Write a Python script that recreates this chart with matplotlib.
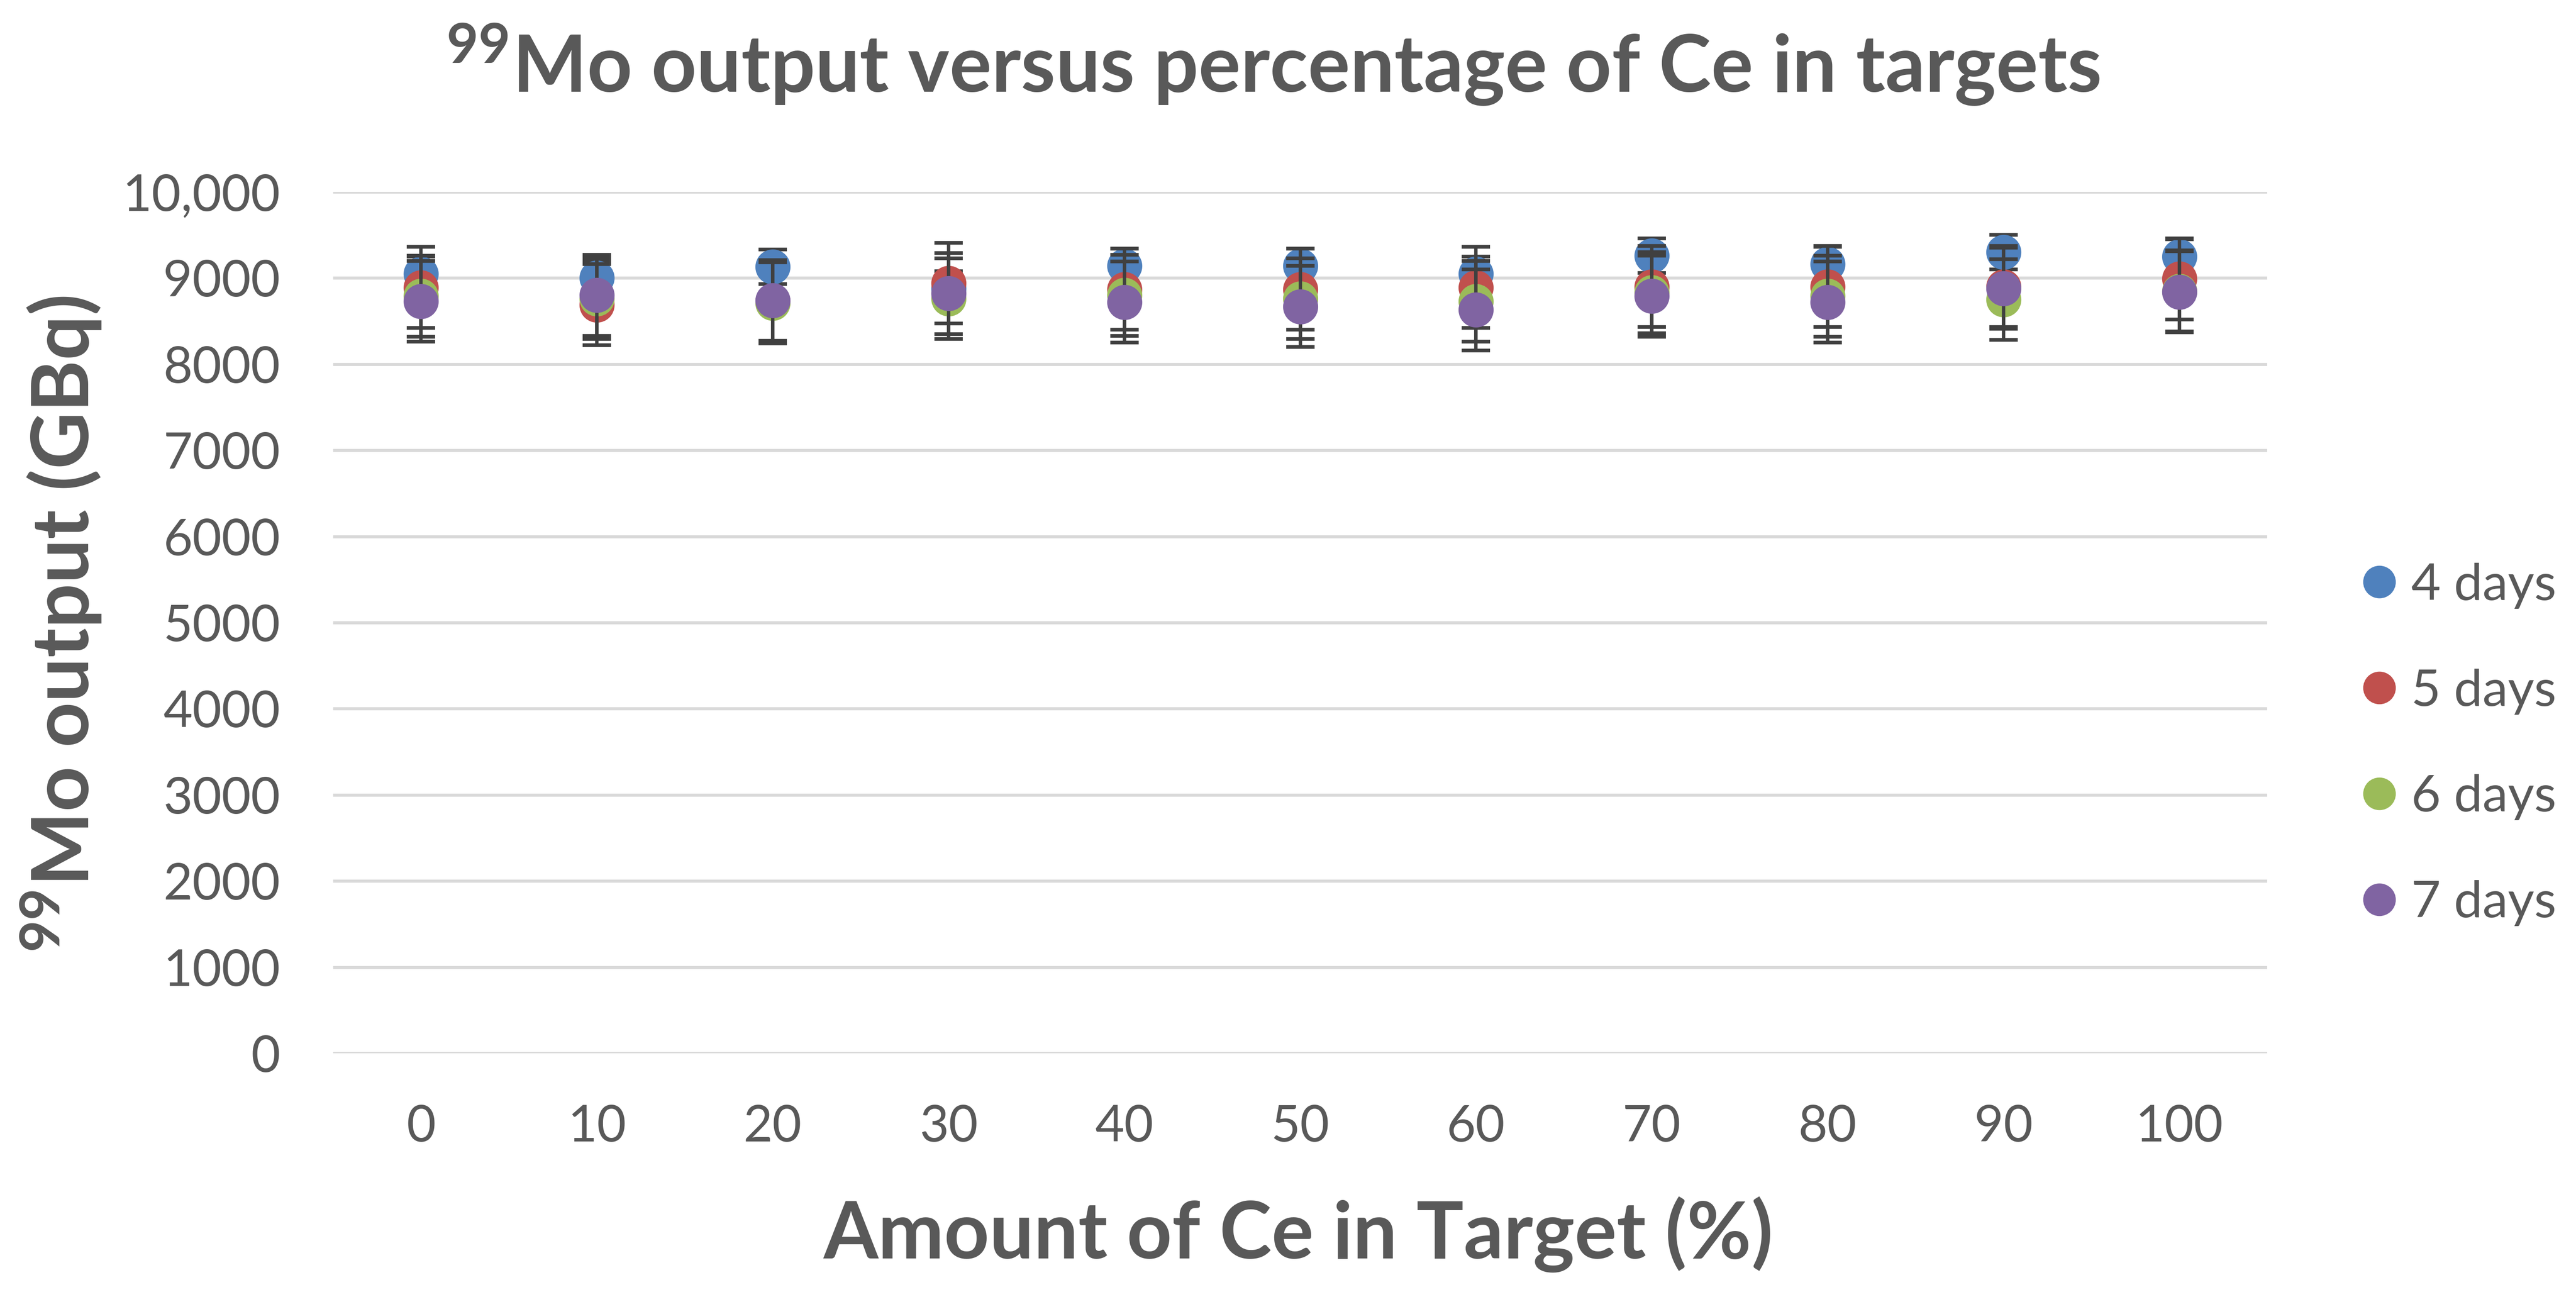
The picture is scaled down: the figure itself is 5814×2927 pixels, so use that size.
import matplotlib
matplotlib.use("Agg")
import matplotlib.pyplot as plt
from matplotlib.lines import Line2D

# ---- data ----
ce_percent = [0, 10, 20, 30, 40, 50, 60, 70, 80, 90, 100]
days_4 = [9050, 9000, 9130, 8880, 9140, 9140, 9050, 9260, 9160, 9300, 9250]
days_5 = [8890, 8690, 8730, 8940, 8870, 8870, 8890, 8900, 8900, 8900, 8990]
days_6 = [8790, 8760, 8710, 8760, 8800, 8760, 8730, 8830, 8790, 8750, 8850]
days_7 = [8730, 8800, 8740, 8820, 8720, 8670, 8630, 8790, 8720, 8880, 8840]
err_4 = [200, 200, 200, 200, 200, 200, 200, 200, 200, 200, 200]
err_5 = [470, 470, 470, 470, 470, 470, 470, 470, 470, 470, 470]
err_6 = [470, 470, 470, 470, 470, 470, 470, 470, 470, 470, 470]
err_7 = [470, 470, 470, 470, 470, 470, 470, 470, 470, 470, 470]
series_labels = ["4 days", "5 days", "6 days", "7 days"]
y_ticks = [0, 1000, 2000, 3000, 4000, 5000, 6000, 7000, 8000, 9000, 10000]
y_tick_labels = ["0", "1000", "2000", "3000", "4000", "5000", "6000", "7000",
                 "8000", "9000", "10,000"]
x_ticks = [0, 10, 20, 30, 40, 50, 60, 70, 80, 90, 100]

colors = ["#4F81BD", "#C0504D", "#9BBB59", "#8064A2"]
text_color = "#595959"

plt.rcParams["font.family"] = ["Lato", "DejaVu Sans"]
plt.rcParams["mathtext.fontset"] = "custom"
plt.rcParams["mathtext.rm"] = "Lato:bold"
plt.rcParams["mathtext.bf"] = "Lato:bold"
plt.rcParams["mathtext.it"] = "Lato:bold"

W, H = 5814, 2927
fig = plt.figure(figsize=(W / 100, H / 100), dpi=100)
ax = fig.add_axes([752 / W, 1 - 2377 / H, (5117 - 752) / W, (2377 - 433) / H])

all_vals = [days_4, days_5, days_6, days_7]
all_errs = [err_4, err_5, err_6, err_7]
for i, (vals, errs) in enumerate(zip(all_vals, all_errs)):
    ax.errorbar(ce_percent, vals, yerr=errs, fmt="o", ms=56, color=colors[i],
                mec=colors[i], ecolor="#404040", elinewidth=5.5,
                capsize=23, capthick=6, zorder=3 + i, clip_on=False)

ax.set_xlim(-5, 105)
ax.set_ylim(0, 10000)
ax.set_yticks(y_ticks)
ax.set_yticklabels(y_tick_labels)
ax.set_xticks(x_ticks)
ax.set_xticklabels([str(v) for v in x_ticks])
for s in ax.spines.values():
    s.set_visible(False)
ax.yaxis.grid(True, color="#D9D9D9", linewidth=5)
ax.xaxis.grid(False)
ax.set_axisbelow(True)
ax.tick_params(axis="both", length=0, labelsize=82, colors=text_color)
ax.tick_params(axis="y", pad=86)
ax.tick_params(axis="x", pad=83)

fig.text(2873 / W, 1 - 208 / H, r"${}^{99}$Mo output versus percentage of Ce in targets",
         ha="center", va="baseline", fontsize=128, fontweight="bold", color=text_color)
fig.text(2931 / W, 1 - 2840 / H, "Amount of Ce in Target (%)",
         ha="center", va="baseline", fontsize=128, fontweight="bold", color=text_color)
fig.text(138 / W, 1 - 1409 / H, r"${}^{99}$Mo output (GBq)", rotation=90,
         ha="center", va="center", fontsize=128, fontweight="bold", color=text_color)

handles = [Line2D([], [], linestyle="none", marker="o", ms=53, color=c, mew=0)
           for c in colors]
fig.legend(handles, series_labels, loc="center left",
           bbox_to_anchor=(5324 / W, 1 - 1680 / H), bbox_transform=fig.transFigure,
           frameon=False, fontsize=83, handlelength=0.8, handletextpad=0.22,
           labelspacing=1.17, borderpad=0, borderaxespad=0, labelcolor=text_color)

fig.savefig("out.png", dpi=100, facecolor="white")
